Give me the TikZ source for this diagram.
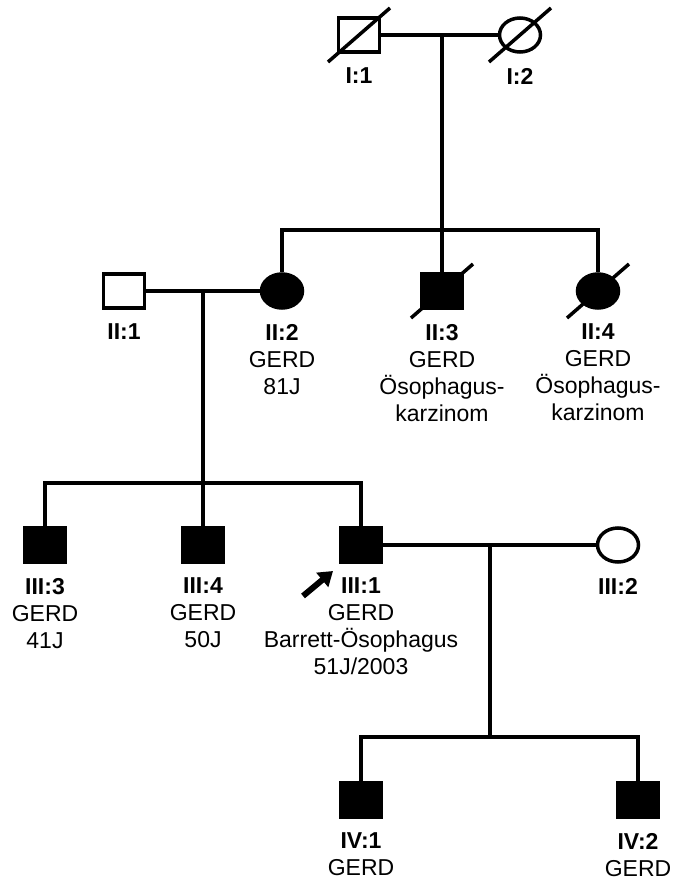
\documentclass[tikz,border=0pt]{standalone}
\usepackage{fontspec}
\setmainfont{Liberation Sans}
\usepackage{tikz}
\usetikzlibrary{arrows.meta,positioning,shapes.geometric}
\tikzset{
  % pedigree symbols, filled = affected
  male/.style     = {rectangle, draw=black, fill=#1, line width=3.5pt, inner sep=0pt,
                     minimum width=41pt, minimum height=34pt},
  male/.default   = white,
  female/.style   = {ellipse, draw=black, fill=#1, line width=3.5pt, inner sep=0pt,
                     minimum width=41pt, minimum height=34pt},
  female/.default = white,
  rel/.style      = {line width=3.5pt, black},
  deceased/.style = {line width=3.5pt, black},
  proband/.style  = {-{Triangle[length=14pt,width=18pt]}, line width=6pt, black},
  info/.style     = {font=\fontsize{23}{27}\selectfont, align=center, inner sep=0pt},
}

\begin{document}
\begin{tikzpicture}[x=1pt,y=-1pt]
\useasboundingbox (0,0) rectangle (672,882);
% generation I
\node[male]   (I1) at (359,35) {};
\node[female] (I2) at (520,35) {};
% generation II
\node[male]          (II1) at (124,291) {};
\node[female=black]  (II2) at (282,291) {};
\node[male=black]    (II3) at (442,291) {};
\node[female=black]  (II4) at (598,291) {};
% generation III
\node[male=black]    (III3) at (45,545) {};
\node[male=black]    (III4) at (203,545) {};
\node[male=black]    (III1) at (361,545) {};
\node[female]        (III2) at (618,545) {};
% generation IV
\node[male=black]    (IV1) at (361,800) {};
\node[male=black]    (IV2) at (638,800) {};

% marriage and sibship points
\coordinate (m1)   at (442,35);
\coordinate (sib2) at (442,230);
\coordinate (m2)   at (203,291);
\coordinate (sib3) at (203,483);
\coordinate (m3)   at (490,545);
\coordinate (sib4) at (490,737);

\draw[rel] (I1) -- (I2);
\draw[rel] (m1) -- (sib2);
\draw[rel] (II2.north) |- (sib2) -| (II4.north);
\draw[rel] (sib2) -- (II3.north);
\draw[rel] (II1) -- (II2);
\draw[rel] (m2) -- (sib3);
\draw[rel] (III3.north) |- (sib3) -| (III1.north);
\draw[rel] (sib3) -- (III4.north);
\draw[rel] (III1) -- (III2);
\draw[rel] (m3) -- (sib4);
\draw[rel] (IV1.north) |- (sib4) -| (IV2.north);

% deceased
\foreach \p in {I1,I2,II3,II4}
  \draw[deceased] ([shift={(-31,27)}]\p.center) -- ([shift={(31,-27)}]\p.center);

% proband
\draw[proband] ([shift={(-58,51)}]III1.center) -- ([shift={(-28,26)}]III1.center);

% labels
\node[info, below=14pt of I1]   (I1t)   {\textbf{I:1}};
\node[info, below=14pt of I2]   (I2t)   {\textbf{I:2}};
\node[info, below=14pt of II1]  (II1t)  {\textbf{II:1}};
\node[info, below=14pt of II2]  (II2t)  {\textbf{II:2}\\GERD\\81J};
\node[info, below=14pt of II3]  (II3t)  {\textbf{II:3}\\GERD\\Ösophagus-\\karzinom};
\node[info, below=14pt of II4]  (II4t)  {\textbf{II:4}\\GERD\\Ösophagus-\\karzinom};
\node[info, below=14pt of III3] (III3t) {\textbf{III:3}\\GERD\\41J};
\node[info, below=14pt of III4] (III4t) {\textbf{III:4}\\GERD\\50J};
\node[info, below=14pt of III1] (III1t) {\textbf{III:1}\\GERD\\Barrett-Ösophagus\\51J/2003};
\node[info, below=14pt of III2] (III2t) {\textbf{III:2}};
\node[info, below=14pt of IV1]  (IV1t)  {\textbf{IV:1}\\GERD};
\node[info, below=14pt of IV2]  (IV2t)  {\textbf{IV:2}\\GERD};
\end{tikzpicture}
\end{document}
